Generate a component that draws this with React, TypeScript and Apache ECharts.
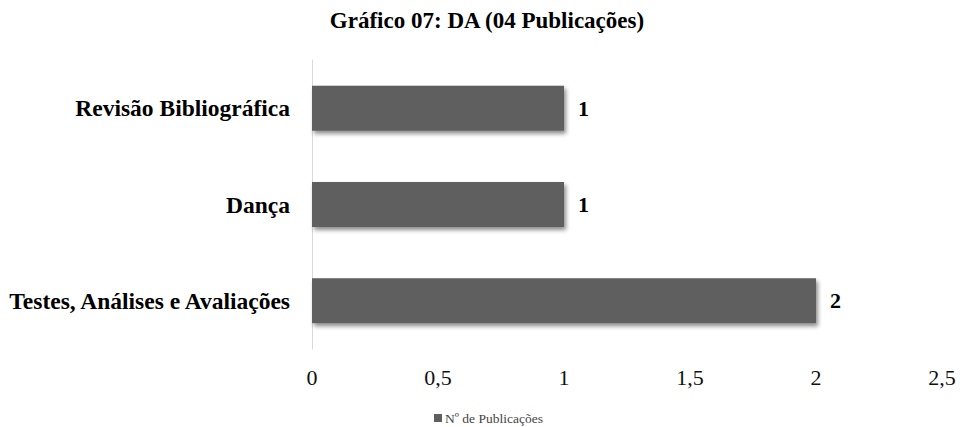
import React, { useEffect, useRef } from "react";
import * as echarts from "echarts";

const categories = ["Revisão Bibliográfica", "Dança", "Testes, Análises e Avaliações"];
const values = [1, 1, 2];
const seriesName = "Nº de Publicações";
const titleText = "Gráfico 07: DA (04 Publicações)";

const FONT = "'Liberation Serif', 'Times New Roman', serif";

export default function App() {
  const ref = useRef<HTMLDivElement>(null);
  useEffect(() => {
    if (!ref.current) return;
    const chart = echarts.init(ref.current, null, { renderer: "svg" });
    chart.setOption({
      animation: false,
      backgroundColor: "#ffffff",
      title: {
        text: titleText,
        left: 482,
        textAlign: "center",
        top: 4,
        textStyle: { fontFamily: FONT, fontSize: 23, fontWeight: "bold", color: "#000" },
      },
      legend: {
        data: [seriesName],
        left: 429,
        top: 406,
        icon: "rect",
        itemWidth: 8,
        itemHeight: 8,
        itemGap: 4,
        textStyle: { fontFamily: FONT, fontSize: 13.5, color: "#444", padding: [0, 0, 0, -2] },
      },
      grid: { left: 312, right: 18, top: 60, bottom: 78, containLabel: false },
      xAxis: {
        type: "value",
        min: 0,
        max: 2.5,
        interval: 0.5,
        axisLine: { show: false },
        axisTick: { show: false },
        splitLine: { show: false },
        axisLabel: {
          fontFamily: FONT,
          fontSize: 22,
          color: "#111",
          margin: 17,
          formatter: (v: number) => String(v).replace(".", ","),
        },
      },
      yAxis: {
        type: "category",
        data: categories,
        inverse: true,
        axisLine: { show: true, lineStyle: { color: "#d9d9d9", width: 1 } },
        axisTick: { show: false },
        axisLabel: {
          fontFamily: FONT,
          fontSize: 23.5,
          fontWeight: "bold",
          color: "#000",
          margin: 22,
        },
      },
      series: [
        {
          name: seriesName,
          type: "bar",
          data: values,
          barWidth: 45,
          itemStyle: {
            color: "#5f5f5f",
            shadowColor: "rgba(0,0,0,0.45)",
            shadowBlur: 4,
            shadowOffsetX: 2,
            shadowOffsetY: 3,
          },
          label: {
            show: true,
            position: "right",
            distance: 14,
            fontFamily: FONT,
            fontSize: 22,
            fontWeight: "bold",
            color: "#000",
          },
        },
      ],
    });
    return () => chart.dispose();
  }, []);
  return <div ref={ref} style={{ width: 960, height: 427, position: "absolute", left: 0, top: 0 }} />;
}
